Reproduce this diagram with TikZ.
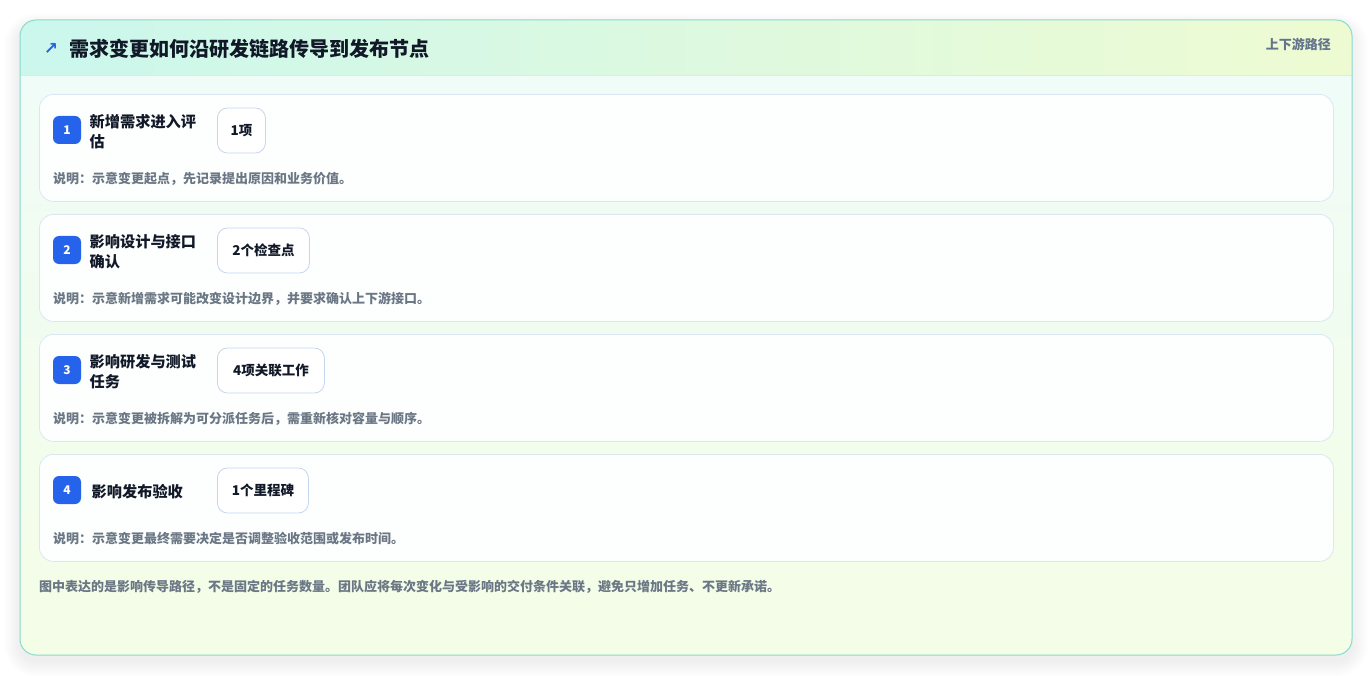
\documentclass[tikz,border=0pt]{standalone}
\usepackage{fontspec}
\setmainfont{Noto Sans CJK SC}
\newfontfamily\symfont{DejaVu Sans}
\definecolor{outerB}{HTML}{86DCCD}
\definecolor{hdrL}{HTML}{CBF7ED}
\definecolor{hdrR}{HTML}{EEFBD2}
\definecolor{hdrLine}{HTML}{D3EFEA}
\definecolor{bodyTop}{HTML}{EFFCF9}
\definecolor{bodyBot}{HTML}{F4FDE6}
\definecolor{cardF}{HTML}{FDFFFE}
\definecolor{cardB}{HTML}{DBE8F4}
\definecolor{badgeC}{HTML}{2563EB}
\definecolor{pillB}{HTML}{C5D6EF}
\definecolor{titleC}{HTML}{111827}
\definecolor{grayC}{HTML}{64748B}
\definecolor{descC}{HTML}{6B7785}
\tikzset{
  cardbox/.style={draw=cardB, line width=0.8pt, fill=cardF, rounded corners=14pt, inner sep=0pt, anchor=north west},
  badge/.style={fill=badgeC, rounded corners=6pt, minimum width=28pt, minimum height=28pt, inner sep=0pt, text=white, font=\bfseries\fontsize{12}{14}\selectfont},
  lbl/.style={anchor=west, align=left, inner sep=0pt, text=titleC, font=\bfseries\fontsize{15.2}{20}\selectfont},
  pill/.style={anchor=west, draw=pillB, line width=0.8pt, fill=white, rounded corners=10pt, minimum height=45pt, inner sep=0pt, text=titleC, font=\bfseries\fontsize{13.5}{16}\selectfont},
  desc/.style={anchor=west, inner sep=0pt, text=descC, font=\bfseries\fontsize{13}{15}\selectfont},
}
\newcommand\stepcard[6]{%
  \foreach \s in {1,...,4}{\fill[black, opacity=0.012, rounded corners=10pt+\s pt] (217-\s*0.8,#2+14+1-\s*0.8) rectangle (217+#4+\s*0.8,#2+59+2+\s*0.8);}
  \node[cardbox, minimum width=1294pt, minimum height=107pt] (card#1) at (39,#2) {};
  \node[badge] (badge#1) at (67,#2+36) {#1};
  \node[lbl] (lbl#1) at (89.5,#2+37.5) {#3};
  \node[pill, minimum width=#4pt] (pill#1) at (217,#2+36.5) {#5};
  \node[desc] (desc#1) at (53,#2+84.5) {#6};
}
\begin{document}
\begin{tikzpicture}[x=1pt,y=-1pt]
\useasboundingbox (0,0) rectangle (1372,676);
\fill[white] (0,0) rectangle (1372,676);
\foreach \s in {1,...,16}{
  \fill[black, opacity=0.0055, rounded corners=16pt+\s pt] (20-\s,20+6-\s*0.8) rectangle (1352+\s,655+6+\s);
}
\path[rounded corners=16pt, top color=bodyTop, bottom color=bodyBot] (20,20) rectangle (1352,655);
\begin{scope}
  \clip[rounded corners=16pt] (20,20) rectangle (1352,655);
  \shade[left color=hdrL, right color=hdrR] (20,20) rectangle (1352,75);
\end{scope}
\draw[hdrLine, line width=0.8pt] (20,75.5) -- (1352,75.5);
\draw[outerB, line width=1pt, rounded corners=16pt] (20,20) rectangle (1352,655);
\node[text=badgeC, inner sep=0pt, font=\symfont\bfseries\fontsize{17}{18}\selectfont] (ico) at (51,49) {↗};
\node[anchor=west, inner sep=0pt, text=titleC, font=\bfseries\fontsize{20}{24}\selectfont] (title) at (69,49) {需求变更如何沿研发链路传导到发布节点};
\node[anchor=east, inner sep=0pt, text=grayC, font=\bfseries\fontsize{13}{15}\selectfont] (route) at (1331,44) {上下游路径};
\stepcard{1}{94}{新增需求进入评\\估}{48}{1项}{说明：示意变更起点，先记录提出原因和业务价值。}
\stepcard{2}{214}{影响设计与接口\\确认}{92}{2个检查点}{说明：示意新增需求可能改变设计边界，并要求确认上下游接口。}
\stepcard{3}{334}{影响研发与测试\\任务}{107}{4项关联工作}{说明：示意变更被拆解为可分派任务后，需重新核对容量与顺序。}
\stepcard{4}{454}{\hspace{2pt}影响发布验收}{91}{1个里程碑}{说明：示意变更最终需要决定是否调整验收范围或发布时间。}
\node[desc] (foot) at (39,586.5) {图中表达的是影响传导路径，不是固定的任务数量。团队应将每次变化与受影响的交付条件关联，避免只增加任务、不更新承诺。};
\end{tikzpicture}
\end{document}
